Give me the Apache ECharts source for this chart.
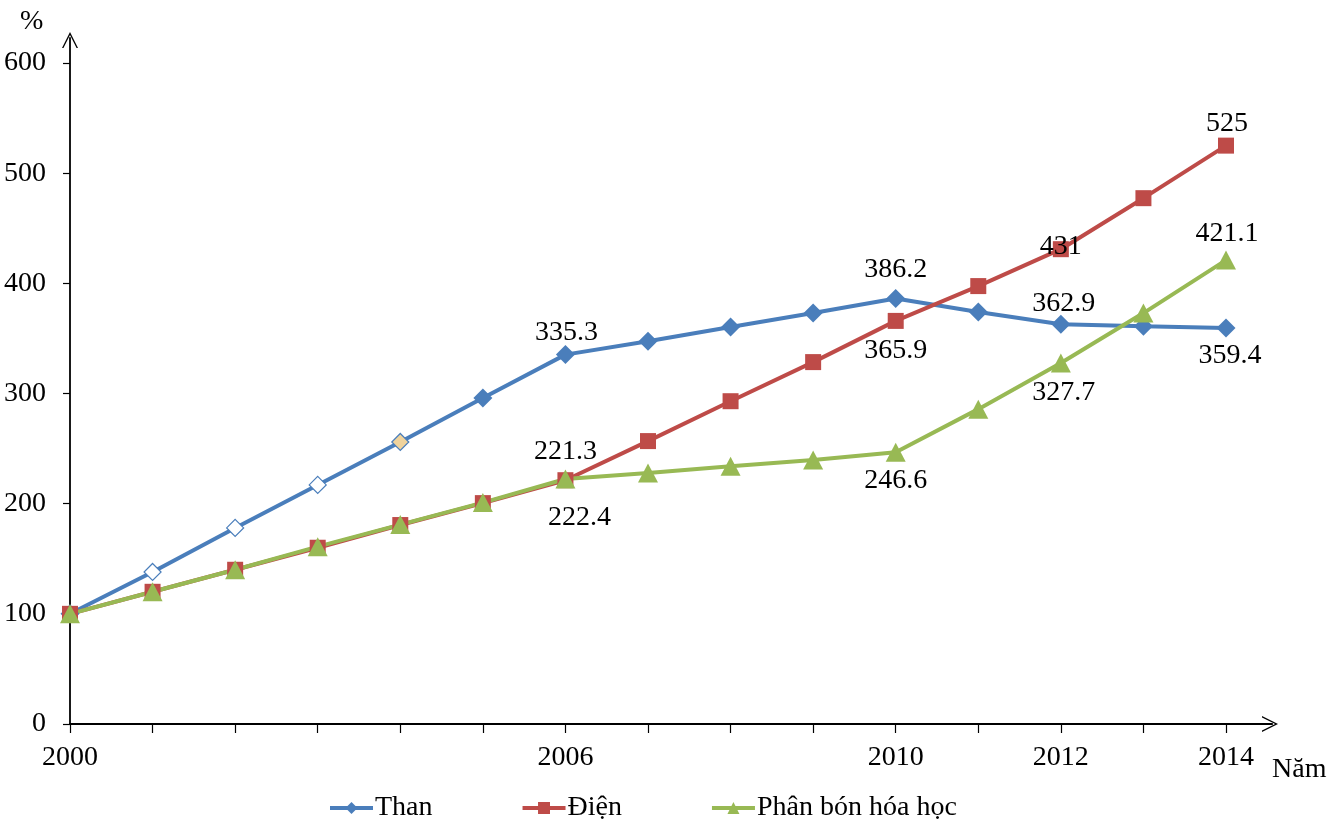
<!DOCTYPE html>
<html><head><meta charset="utf-8">
<script src="https://cdn.jsdelivr.net/npm/echarts@6/dist/echarts.min.js"></script>
<style>html,body{margin:0;padding:0;background:#fff}#c{width:1340px;height:829px}</style>
</head><body><div id="c"></div>
<script>
const years = [2000,2001,2002,2003,2004,2005,2006,2007,2008,2009,2010,2011,2012,2013,2014];
const shownYears = [2000,2006,2010,2012,2014];
const than = [100,138,178,217,256,296,335.3,347.5,360.3,373,386.2,374,362.9,361,359.4];
const dien = [100,120,140,160,180.6,200.5,221.3,256.8,293,328.5,365.9,397.5,431,477.3,525];
const phanbon = [100,120,140,161,181,201,222.4,227.8,234,239.6,246.6,285.8,327.7,373,421.1];
const seriesNames = ['Than','Điện','Phân bón hóa học'];
const yTicks = [0,100,200,300,400,500,600];

// label placement (index -> [dx, dy]) kept separate from data
const thanLabels = {6:[1,-22],10:[0,-29],12:[3,-21],14:[4,28]};
const dienLabels = {6:[0,-29],10:[0,30],12:[0,-3],14:[1,-22]};
const phanLabels = {6:[14,39],10:[0,28],12:[3,30],14:[1,-26]};
const thanHollow = {1:'#fff',2:'#fff',3:'#fff',4:'#F0D39C'};

const FONT = '"Liberation Serif","Times New Roman",serif';
const FS = 28;
const blue='#4A7EBB', red='#BE4B48', green='#98B954';
const openArrow = 'path://M0,20 L10,0 L20,20 L18.2,20 L10,3.6 L1.8,20 Z';

function build(vals, labels, special){
  return vals.map((v,i)=>{
    const o = {value:[years[i], v]};
    if (labels[i]) {
      o.label = {show:true, position:'inside', offset:labels[i], formatter: String(v)};
    }
    if (special && special[i]) {
      o.itemStyle = {color: special[i], borderColor: blue, borderWidth: 1.2};
      o.symbolSize = 17;
    }
    return o;
  });
}

const chart = echarts.init(document.getElementById('c'));
const labelStyle = {fontFamily: FONT, fontSize: FS, color:'#000'};
chart.setOption({
  animation:false,
  grid:[
    {left:70, right:114, top:63, bottom:105},
    {left:70, right:68, top:38, bottom:105}
  ],
  xAxis:[
    {type:'value', gridIndex:0, min:2000, max:2014, interval:1,
     axisLine:{show:false},
     axisTick:{show:true, length:9, lineStyle:{color:'#000', width:1.2}},
     splitLine:{show:false},
     axisLabel:{margin:20, fontFamily:FONT, fontSize:FS, color:'#000',
       formatter: v => shownYears.includes(v) ? String(v) : ''}},
    {type:'value', gridIndex:1, min:0, max:1,
     axisLine:{show:true, symbol:['none',openArrow], symbolSize:[16,24], symbolOffset:[0,-2], lineStyle:{color:'#000', width:2.2}},
     axisTick:{show:false}, axisLabel:{show:false}, splitLine:{show:false}}
  ],
  yAxis:[
    {type:'value', gridIndex:0, min:0, max:600, interval:100,
     axisLine:{show:false},
     axisTick:{show:true, length:7, lineStyle:{color:'#000', width:1.2}},
     splitLine:{show:false},
     axisLabel:{margin:24, fontFamily:FONT, fontSize:FS, color:'#000',
       formatter: v => yTicks.includes(v) ? String(v) : ''}},
    {type:'value', gridIndex:1, min:0, max:1,
     axisLine:{show:true, symbol:['none',openArrow], symbolSize:[16,24], symbolOffset:[0,-2], lineStyle:{color:'#000', width:1.8}},
     axisTick:{show:false}, axisLabel:{show:false}, splitLine:{show:false}}
  ],
  legend:{
    bottom:2, left:323, itemWidth:43, itemHeight:15, itemGap:88,
    lineStyle:{width:4},
    textStyle:{fontFamily:FONT, fontSize:FS, color:'#000', padding:[0,0,0,-3]},
    data: seriesNames
  },
  graphic:[
    {type:'text', left:20, top:8, style:{text:'%', font:FS+'px '+FONT, fill:'#000'}},
    {type:'text', left:1272, top:756, style:{text:'Năm', font:FS+'px '+FONT, fill:'#000'}}
  ],
  series:[
    {name:seriesNames[0], type:'line', xAxisIndex:0, yAxisIndex:0,
     data: build(than, thanLabels, thanHollow),
     symbol:'diamond', symbolSize:19,
     lineStyle:{color:blue, width:4}, itemStyle:{color:blue},
     label:{show:false, ...labelStyle}},
    {name:seriesNames[1], type:'line', xAxisIndex:0, yAxisIndex:0,
     data: build(dien, dienLabels),
     symbol:'rect', symbolSize:16,
     lineStyle:{color:red, width:4}, itemStyle:{color:red},
     label:{show:false, ...labelStyle}},
    {name:seriesNames[2], type:'line', xAxisIndex:0, yAxisIndex:0,
     data: build(phanbon, phanLabels),
     symbol:'triangle', symbolSize:[20,19],
     lineStyle:{color:green, width:4}, itemStyle:{color:green},
     label:{show:false, ...labelStyle}}
  ]
});
</script></body></html>
